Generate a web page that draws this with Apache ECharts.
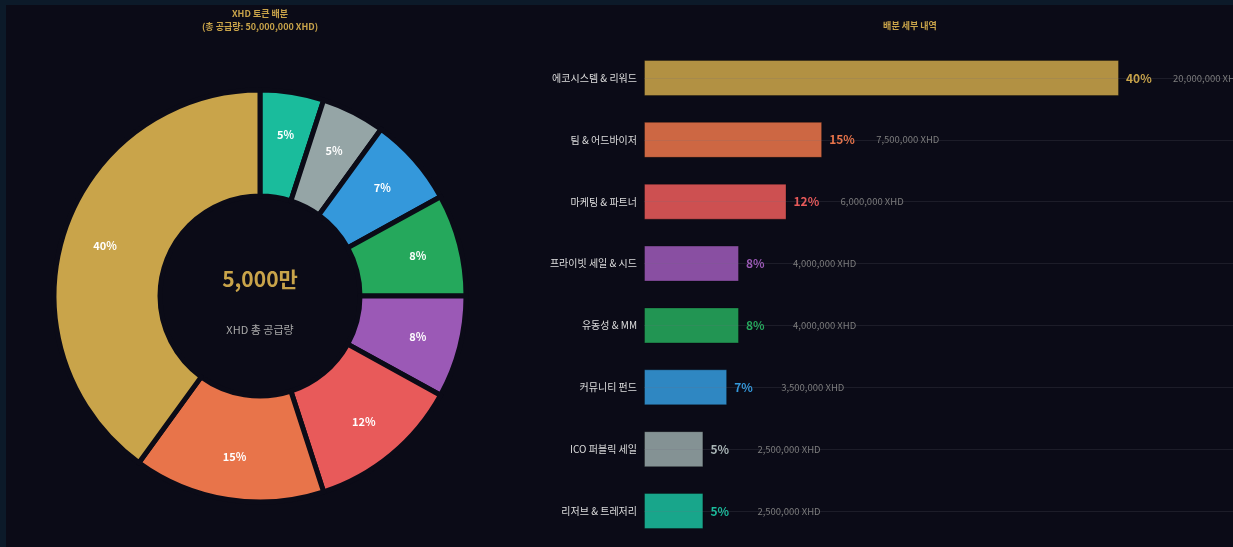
<!DOCTYPE html>
<html>
<head>
<meta charset="utf-8">
<script src="https://cdn.jsdelivr.net/npm/echarts@6/dist/echarts.min.js"></script>
<style>
  html, body { margin: 0; padding: 0; background: #0c1a29; width: 1233px; height: 547px; overflow: hidden; }
  #chart { position: absolute; left: 6px; top: 5px; width: 1227px; height: 542px; background: #0b0b17; }
</style>
</head>
<body>
<div id="chart"></div>
<script>
// bar order, top to bottom
var categories = ['에코시스템 & 리워드', '팀 & 어드바이저', '마케팅 & 파트너', '프라이빗 세일 & 시드', '유동성 & MM', '커뮤니티 펀드', 'ICO 퍼블릭 세일', '리저브 & 트레저리'];
var amounts = [20000000, 7500000, 6000000, 4000000, 4000000, 3500000, 2500000, 2500000];
var colors = ['#c9a44a', '#e8744a', '#e85a5a', '#9b59b6', '#25a85c', '#3498db', '#95a5a6', '#1abc9c'];
var totalSupply = 50000000;

var font = "'Noto Sans CJK KR', 'Noto Sans', sans-serif";
var bg = '#0b0b17';

function fmt(n) { return n.toString().replace(/\B(?=(\d{3})+(?!\d))/g, ','); }
function pct(n) { return Math.round(n / totalSupply * 100) + '%'; }
function alpha(hex, a) {
    var r = parseInt(hex.substr(1, 2), 16), g = parseInt(hex.substr(3, 2), 16), b = parseInt(hex.substr(5, 2), 16);
    return 'rgba(' + r + ',' + g + ',' + b + ',' + a + ')';
}

// pie goes clockwise from top starting with the smallest
var pieData = [];
for (var i = categories.length - 1; i >= 0; i--) {
    pieData.push({ name: categories[i], value: amounts[i], itemStyle: { color: colors[i] } });
}

var barData = amounts.map(function (v, i) {
    return {
        value: v,
        itemStyle: { color: alpha(colors[i], 0.88) },
        label: {
            show: true,
            position: 'right',
            distance: 7,
            formatter: '{p|' + pct(v) + '}{a|' + fmt(v) + ' XHD}',
            rich: {
                p: { color: i == 6 ? '#aab6b7' : colors[i], fontSize: 12, fontWeight: 'bold', width: 47, fontFamily: font },
                a: { color: '#7c7c7c', fontSize: 9.5, fontFamily: font }
            }
        }
    };
});

var chart = echarts.init(document.getElementById('chart'));
chart.setOption({
    backgroundColor: bg,
    animation: false,
    title: [
        {
            text: 'XHD 토큰 배분\n(총 공급량: 50,000,000 XHD)',
            left: 254, top: 2, padding: 0, textAlign: 'center',
            textStyle: { color: '#c9a44a', fontSize: 9, fontWeight: 'bold', lineHeight: 13, fontFamily: font }
        },
        {
            text: '배분 세부 내역',
            left: 904, top: 16, padding: 0, textAlign: 'center',
            textStyle: { color: '#c9a44a', fontSize: 9, fontWeight: 'bold', fontFamily: font }
        }
    ],
    graphic: [
        {
            type: 'text', x: 254, y: 274,
            style: { text: '5,000만', fill: '#c9a44a', font: 'bold 21px ' + font, align: 'center', verticalAlign: 'middle' }
        },
        {
            type: 'text', x: 254, y: 325,
            style: { text: 'XHD 총 공급량', fill: '#a8a8a8', font: '11px ' + font, align: 'center', verticalAlign: 'middle' }
        }
    ],
    grid: { left: 638, right: 0, top: 73, bottom: 36 },
    xAxis: { type: 'value', min: 0, max: 24800000, show: false },
    yAxis: {
        type: 'category',
        data: categories,
        inverse: true,
        boundaryGap: false,
        z: 5,
        axisLine: { show: false },
        axisTick: { show: false },
        axisLabel: { color: '#dddddd', fontSize: 10, margin: 7, fontFamily: font },
        splitLine: { show: true, interval: 0, lineStyle: { color: 'rgba(110,110,125,0.18)', width: 1 } }
    },
    series: [
        {
            type: 'pie',
            center: [254, 291],
            radius: [100, 206],
            startAngle: 90,
            clockwise: true,
            itemStyle: { borderColor: bg, borderWidth: 5 },
            label: { show: false },
            labelLine: { show: false },
            data: pieData
        },
        {
            // transparent ring that only carries the percent labels a bit further out
            type: 'pie',
            center: [254, 291],
            radius: [114, 206],
            startAngle: 90,
            clockwise: true,
            silent: true,
            z: 3,
            itemStyle: { color: 'rgba(0,0,0,0)', borderWidth: 0 },
            label: {
                show: true, position: 'inside',
                formatter: function (p) { return pct(p.value); },
                color: '#ffffff', fontSize: 11, fontWeight: 'bold', fontFamily: font
            },
            labelLine: { show: false },
            data: pieData.map(function (d) { return { name: d.name, value: d.value }; })
        },
        {
            type: 'bar',
            barWidth: 36,
            clip: false,
            itemStyle: { borderColor: 'rgba(0,0,0,0.3)', borderWidth: 1 },
            data: barData
        }
    ]
});
</script>
</body>
</html>
